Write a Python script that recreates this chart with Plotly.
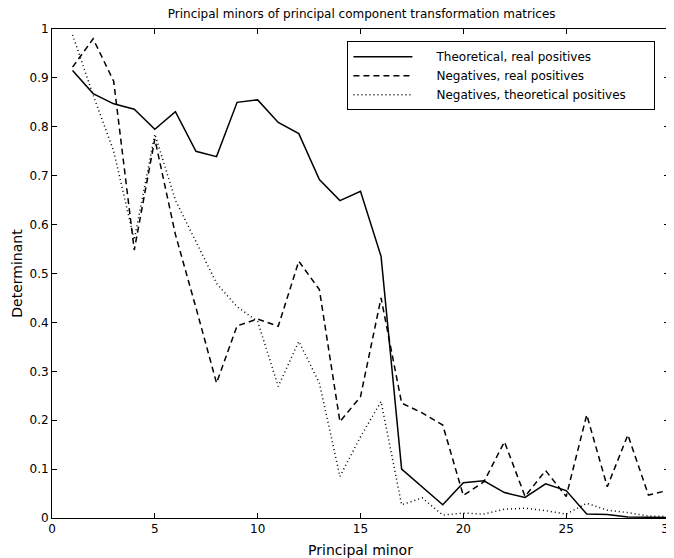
import plotly.graph_objects as go

minor = list(range(1, 31))

theoretical_real = [0.915, 0.868, 0.847, 0.836, 0.795, 0.831, 0.750, 0.739, 0.850, 0.855,
                    0.809, 0.786, 0.692, 0.649, 0.668, 0.535, 0.100, 0.063, 0.027, 0.072,
                    0.076, 0.052, 0.042, 0.070, 0.056, 0.008, 0.007, 0.002, 0.001, 0.001]

negatives_real = [0.922, 0.980, 0.893, 0.548, 0.775, 0.580, 0.430, 0.276, 0.393, 0.407,
                  0.392, 0.525, 0.467, 0.197, 0.248, 0.450, 0.235, 0.215, 0.190, 0.046,
                  0.074, 0.156, 0.044, 0.097, 0.044, 0.211, 0.064, 0.170, 0.047, 0.057]

negatives_theoretical = [0.988, 0.865, 0.750, 0.569, 0.785, 0.650, 0.565, 0.480, 0.432, 0.402,
                         0.269, 0.361, 0.276, 0.085, 0.166, 0.238, 0.027, 0.041, 0.006, 0.010,
                         0.008, 0.018, 0.020, 0.015, 0.008, 0.030, 0.016, 0.011, 0.004, 0.003]

names = ["Theoretical, real positives", "Negatives, real positives", "Negatives, theoretical positives"]

x_ticks = [0, 5, 10, 15, 20, 25, 30]
y_ticks = [0, 0.1, 0.2, 0.3, 0.4, 0.5, 0.6, 0.7, 0.8, 0.9, 1]
y_tick_text = ["0", "0.1", "0.2", "0.3", "0.4", "0.5", "0.6", "0.7", "0.8", "0.9", "1"]

FONT = "DejaVu Sans, Liberation Sans, Arial, sans-serif"
LEAD = "\u00a0" * 5
TRAIL = "\u00a0" * 6

fig = go.Figure()
fig.add_trace(go.Scatter(x=minor, y=theoretical_real, mode="lines", name=LEAD + names[0],
                         line=dict(color="black", width=1.5, dash="solid")))
fig.add_trace(go.Scatter(x=minor, y=negatives_real, mode="lines", name=LEAD + names[1],
                         line=dict(color="black", width=1.5, dash="6px,4px")))
fig.add_trace(go.Scatter(x=minor, y=negatives_theoretical, mode="lines", name=LEAD + names[2] + TRAIL,
                         line=dict(color="black", width=1.5, dash="1px,3px")))

axis_common = dict(showline=True, linecolor="black", linewidth=1, mirror="ticks",
                   ticks="inside", ticklen=5, tickcolor="black", showgrid=False,
                   zeroline=False, automargin=False, ticklabeloverflow="allow",
                   tickfont=dict(family=FONT, size=12, color="black"))

# The page body adds an 8px offset; the figure is sized so that it ends at the window edge.
fig.update_layout(
    width=666, height=550,
    margin=dict(l=44, r=5, t=21, b=40),
    paper_bgcolor="white", plot_bgcolor="white",
    font=dict(family=FONT, size=12, color="black"),
    title=dict(text="Principal minors of principal component transformation matrices",
               x=0.531, xanchor="center", y=0.998, yanchor="top", font=dict(size=12)),
    xaxis=dict(range=[0, 30], tickvals=x_ticks, title=dict(text="Principal minor", standoff=9),
               **axis_common),
    yaxis=dict(range=[0, 1], tickvals=y_ticks, ticktext=y_tick_text,
               title=dict(text="Determinant", standoff=3), **axis_common),
    legend=dict(x=0.978, y=0.975, xanchor="right", yanchor="top", bgcolor="white",
                bordercolor="black", borderwidth=1, font=dict(size=12),
                tracegroupgap=0, itemwidth=59),
    showlegend=True,
)

fig.write_html("out.html")
